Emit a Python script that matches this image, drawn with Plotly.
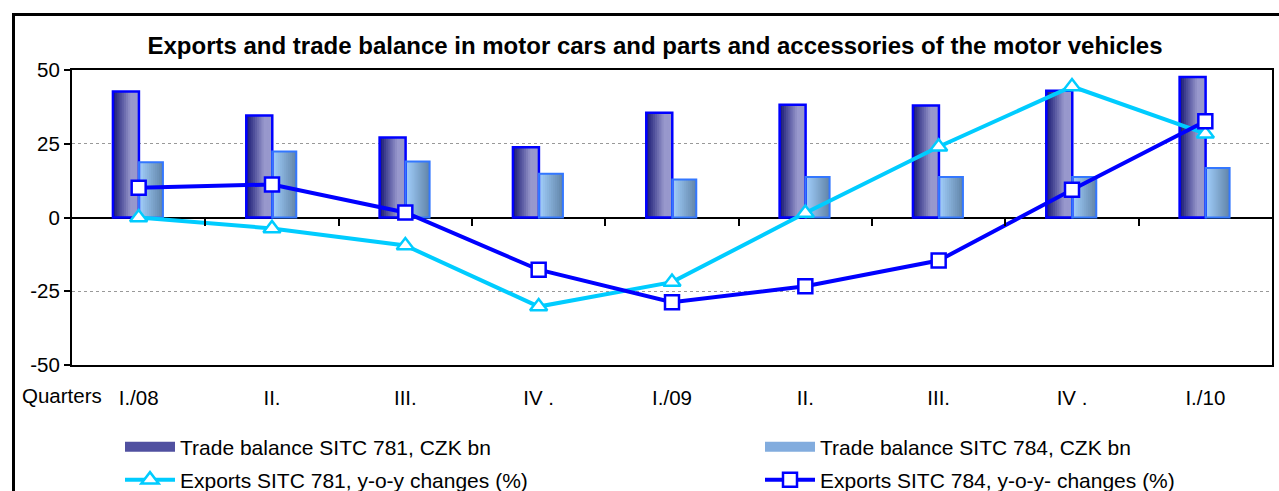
import plotly.graph_objects as go

# ---- data ----
quarters = ["I./08", "II.", "III.", "IV .", "I./09", "II.", "III.", "IV .", "I./10"]
tb781 = [42.7, 34.6, 27.1, 23.8, 35.5, 38.2, 38.0, 43.0, 47.6]
tb784 = [18.7, 22.4, 19.0, 14.8, 12.9, 13.7, 13.7, 13.7, 16.8]
exp781 = [0.0, -3.7, -9.5, -30.2, -21.9, 1.5, 24.0, 44.4, 28.4]
exp784 = [10.1, 11.2, 1.7, -17.7, -28.7, -23.3, -14.6, 9.4, 32.6]
ytick_vals = [-50, -25, 0, 25, 50]
ytick_text = ["-50", "-25", "0", "25", "50"]

name_tb781 = "Trade balance SITC 781, CZK bn"
name_tb784 = "Trade balance SITC 784, CZK bn"
name_ex781 = "Exports SITC 781, y-o-y changes (%)"
name_ex784 = "Exports SITC 784, y-o-y- changes (%)"

xs = list(range(len(quarters)))
FONT = "Liberation Sans, Arial, sans-serif"


def lerp(c1, c2, t):
    return "rgb(%d,%d,%d)" % tuple(round(a + (b - a) * t) for a, b in zip(c1, c2))


fig = go.Figure()

# bar geometry (category units)
W1, O1 = 0.195, -0.193
W2, O2 = 0.18, 0.002
N = 12

# gradient strips (nested: each strip runs to the bar's right edge, later ones on top)
for i in range(N):
    t = i / (N - 1)
    tt = min(1.0, t / 0.7)
    fig.add_trace(go.Bar(x=xs, y=tb781, width=W1 * (N - i) / N, offset=O1 + W1 * i / N,
                         marker=dict(color=lerp((30, 30, 120), (152, 152, 204), tt), line=dict(width=0)),
                         showlegend=False, hoverinfo="skip"))
    fig.add_trace(go.Bar(x=xs, y=tb784, width=W2 * (N - i) / N, offset=O2 + W2 * i / N,
                         marker=dict(color=lerp((160, 205, 250), (100, 135, 170), t), line=dict(width=0)),
                         showlegend=False, hoverinfo="skip"))

# outlines
fig.add_trace(go.Bar(x=xs, y=tb781, width=W1, offset=O1, name=name_tb781,
                     marker=dict(color="rgba(0,0,0,0)", line=dict(color="#0000ff", width=2.5)),
                     showlegend=False))
fig.add_trace(go.Bar(x=xs, y=tb784, width=W2, offset=O2, name=name_tb784,
                     marker=dict(color="rgba(0,0,0,0)", line=dict(color="#3377ff", width=2)),
                     showlegend=False))

# legend proxies for the bars (no data, legend symbol only)
fig.add_trace(go.Scatter(x=[None], y=[None], mode="lines", name=name_tb781,
                         line=dict(color="rgb(80,80,160)", width=14), legend="legend"))
fig.add_trace(go.Scatter(x=[None], y=[None], mode="lines", name=name_tb784,
                         line=dict(color="rgb(130,172,222)", width=14), legend="legend2"))

# lines
fig.add_trace(go.Scatter(x=xs, y=exp781, mode="lines+markers", name=name_ex781,
                         line=dict(color="#00ccff", width=4),
                         marker=dict(symbol="triangle-up", size=15, color="white",
                                     line=dict(color="#00ccff", width=2.5)),
                         xaxis="x2", legend="legend3"))
fig.add_trace(go.Scatter(x=xs, y=exp784, mode="lines+markers", name=name_ex784,
                         line=dict(color="#0000ff", width=4),
                         marker=dict(symbol="square", size=14, color="white",
                                     line=dict(color="#0000ff", width=2.5)),
                         xaxis="x2", legend="legend4"))

PW, PH = 1200, 295
L, T = 72, 70


def px_x(p):
    return (p - L) / PW


def px_y(p):
    return (T + PH - p) / PH


def leg(xpx, ypx):
    return dict(orientation="h", x=px_x(xpx), xanchor="left", y=px_y(ypx), yanchor="middle",
                font=dict(size=21, family=FONT), itemwidth=50,
                bgcolor="rgba(0,0,0,0)", itemclick=False, itemdoubleclick=False)


fig.update_layout(
    width=1279, height=491,
    margin=dict(l=L, r=1279 - L - PW, t=T, b=491 - T - PH, autoexpand=False),
    paper_bgcolor="white", plot_bgcolor="white",
    barmode="overlay",
    font=dict(family=FONT, size=20, color="black"),
    title=dict(text="<b>Exports and trade balance in motor cars and parts and accessories of the motor vehicles</b>",
               font=dict(size=24, family=FONT, color="black"),
               xref="container", x=655 / 1279, xanchor="center",
               yref="container", y=1 - 46 / 491, yanchor="middle"),
    xaxis=dict(range=[-0.5, 8.5], tickmode="array", tickvals=xs, ticktext=quarters,
               ticks="", showline=True, linecolor="black", linewidth=2, mirror=True,
               showgrid=False, zeroline=False, ticklabelstandoff=13,
               tickfont=dict(size=20.5)),
    xaxis2=dict(range=[-0.5, 8.5], overlaying="x", anchor="free", position=0.5,
                tickmode="array", tickvals=[i + 0.5 for i in xs[:-1]],
                ticks="outside", ticklen=7, tickwidth=2, tickcolor="black",
                showticklabels=False, showline=False, showgrid=False, zeroline=False),
    yaxis=dict(range=[-50, 50], tickmode="array", tickvals=ytick_vals, ticktext=ytick_text,
               ticks="outside", ticklen=6, tickwidth=2, tickcolor="black",
               showline=True, linecolor="black", linewidth=2, mirror=True,
               showgrid=True, gridcolor="#999999", griddash="dot", gridwidth=1,
               zeroline=True, zerolinecolor="black", zerolinewidth=2,
               tickfont=dict(size=20.5)),
    legend=leg(120, 447),
    legend2=leg(760, 447),
    legend3=leg(120, 480),
    legend4=leg(760, 480),
    showlegend=True,
    annotations=[dict(text="Quarters", xref="paper", yref="paper", x=px_x(20), y=px_y(395),
                      xanchor="left", yanchor="middle", showarrow=False, font=dict(size=20.5))],
    shapes=[dict(type="rect", xref="paper", yref="paper", x0=px_x(13.5), x1=px_x(1300),
                 y0=px_y(600), y1=px_y(14.5), line=dict(color="black", width=3),
                 fillcolor="rgba(0,0,0,0)", layer="below")],
)

fig.write_html("out.html", config={"displayModeBar": False},
               post_script="document.body.style.margin='0px';")
